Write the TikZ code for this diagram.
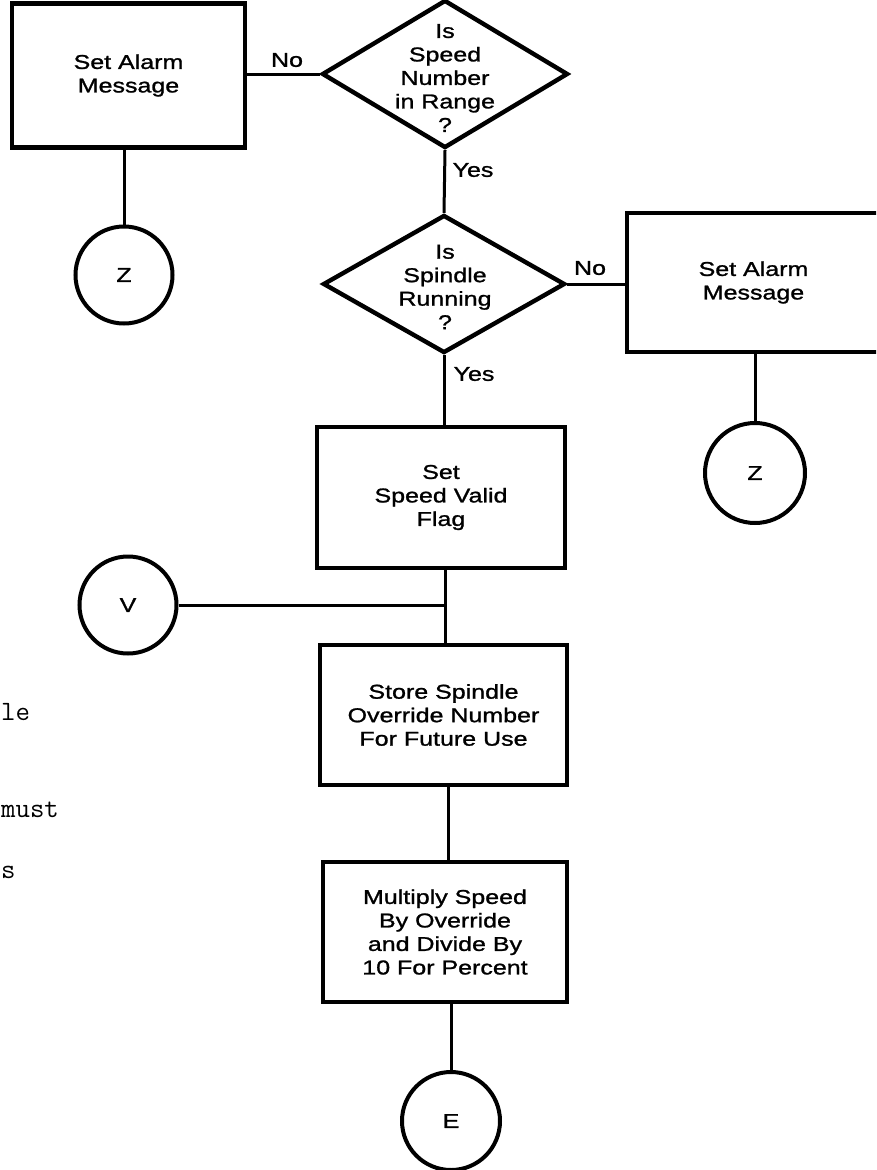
\documentclass[tikz,border=0pt]{standalone}
\usepackage{fontspec}
\usetikzlibrary{shapes.geometric}
\newfontfamily\flowfont{Liberation Sans}[FakeStretch=1.25, FakeBold=1.2]
\begin{document}
\begin{tikzpicture}[x=1pt, y=-1pt,
  flowtext/.style={font=\flowfont\fontsize{20}{23.5}\selectfont, align=center, inner sep=0pt},
  procbox/.style={flowtext, draw, rectangle, line width=4.2pt},
  decision/.style={draw, diamond, line width=4.4pt, inner sep=0pt},
  connector/.style={draw, circle, line width=4pt, inner sep=0pt, minimum size=97pt, flowtext},
  link/.style={line width=3pt},
  branch/.style={flowtext},
  sidetext/.style={font=\ttfamily\fontsize{28}{30}\selectfont, inner sep=0pt, anchor=base west}
]
\useasboundingbox (0,0) rectangle (876,1170);
\clip (0,0) rectangle (876,1170);

% decisions
\node[decision, minimum width=246pt, minimum height=148pt] (d1) at (445,74) {};
\node[flowtext] (d1t) at (445,78) {Is\\Speed\\Number\\in Range\\?};
\node[decision, minimum width=242pt, minimum height=138pt] (d2) at (444,284) {};
\node[flowtext] (d2t) at (445,287) {Is\\Spindle\\Running\\?};

% process boxes
\node[procbox, minimum width=233pt, minimum height=144pt] (alarm1) at (128.5,75.5) {Set Alarm\\Message};
\node[procbox, minimum width=253pt, minimum height=139pt] (alarm2) at (753.5,282.5) {Set Alarm\\Message};
\node[procbox, minimum width=248pt, minimum height=141pt] (flag) at (441,497.5) {Set\\Speed Valid\\Flag};
\node[procbox, minimum width=247pt, minimum height=140pt] (store) at (443.5,715) {Store Spindle\\Override Number\\For Future Use};
\node[procbox, minimum width=244pt, minimum height=140pt] (mult) at (445,932) {Multiply Speed\\By Override\\and Divide By\\10 For Percent};

% off-page connectors
\node[connector] (z1) at (124,275) {Z};
\node[connector, minimum size=100pt] (z2) at (755,473) {Z};
\node[connector] (v) at (128,605) {V};
\node[connector, minimum size=98pt] (e) at (451,1121) {E};

\coordinate (join) at (445,605);

% links
\draw[link] (d1.west) -- (d1.west -| alarm1.east);
\draw[link] (z1.north) -- (z1.north |- alarm1.south);
\draw[link] (d1.south) -- (d2.north);
\draw[link] (d2.east) -- (d2.east -| alarm2.west);
\draw[link] (z2.north) -- (z2.north |- alarm2.south);
\draw[link] (d2.south) -- (d2.south |- flag.north);
\draw[link] (join |- flag.south) -- (join) -- (join |- store.north);
\draw[link] (v.east) -- (join);
\draw[link] (448,0 |- store.south) -- (448,0 |- mult.north);
\draw[link] (e.north) -- (e.north |- mult.south);

% branch labels
\node[branch] (no1) at (287,60) {No};
\node[branch] (yes1) at (473,170) {Yes};
\node[branch] (no2) at (590,268) {No};
\node[branch] (yes2) at (474,374) {Yes};

% text from the neighbouring column
\node[sidetext] (s1) at (1,720) {le};
\node[sidetext] (s2) at (1,817) {must};
\node[sidetext] (s3) at (1,878) {s};
\end{tikzpicture}
\end{document}
